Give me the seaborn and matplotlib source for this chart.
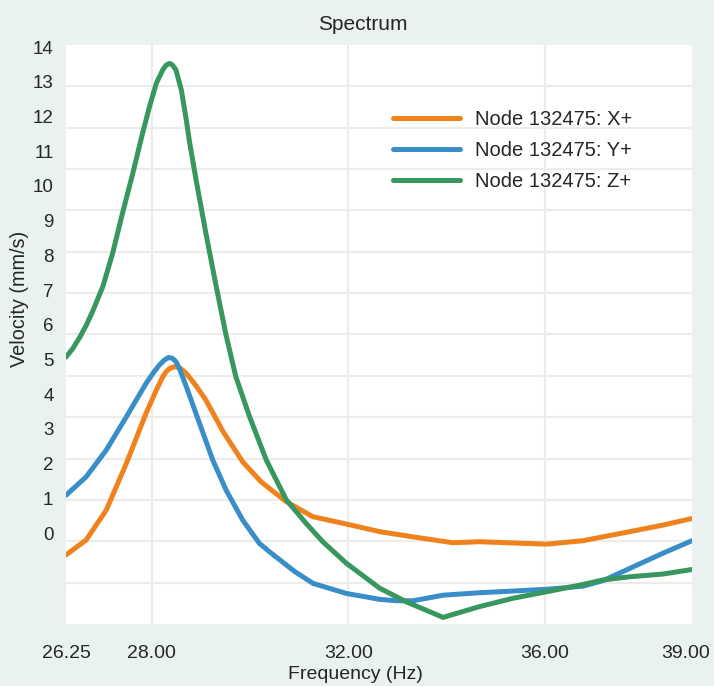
import numpy as np
import pandas as pd
import seaborn as sns
import matplotlib.pyplot as plt
import matplotlib.transforms as mtransforms

# values
freq_x = [26.25, 26.66, 27.07, 27.48, 27.88, 28.09, 28.22, 28.29, 28.36, 28.46,
          28.56, 28.70, 28.90, 29.10, 29.45, 29.85, 30.22, 30.74, 31.28, 31.96,
          32.64, 33.32, 34.13, 34.67, 36.04, 36.78, 37.73, 38.41, 39.00]
vel_x = [-0.63, -0.20, 0.66, 2.01, 3.45, 4.12, 4.50, 4.65, 4.74, 4.79,
         4.77, 4.60, 4.24, 3.83, 2.92, 2.05, 1.48, 0.90, 0.47, 0.26,
         0.04, -0.11, -0.28, -0.25, -0.32, -0.22, 0.04, 0.23, 0.42]

freq_y = [26.25, 26.66, 27.07, 27.48, 27.88, 28.02, 28.15, 28.25, 28.34, 28.42,
          28.49, 28.57, 28.70, 28.97, 29.24, 29.51, 29.85, 30.19, 30.43, 30.91,
          31.28, 31.96, 32.64, 32.98, 33.32, 33.93, 34.67, 36.04, 36.78, 37.19,
          37.73, 38.41, 39.00]
vel_y = [1.09, 1.62, 2.39, 3.35, 4.31, 4.60, 4.84, 4.98, 5.06, 5.03,
         4.94, 4.70, 4.22, 3.16, 2.10, 1.24, 0.37, -0.30, -0.58, -1.11,
         -1.45, -1.74, -1.91, -1.95, -1.95, -1.79, -1.72, -1.62, -1.53, -1.37,
         -1.02, -0.58, -0.22]

freq_z = [26.25, 26.39, 26.53, 26.66, 26.79, 27.00, 27.20, 27.40, 27.61, 27.81,
          27.95, 28.09, 28.22, 28.29, 28.36, 28.42, 28.49, 28.60, 28.70, 28.76,
          28.90, 29.10, 29.31, 29.51, 29.71, 29.99, 30.33, 30.74, 31.14, 31.48,
          31.96, 32.64, 33.18, 33.93, 34.67, 35.35, 36.04, 36.72, 37.19, 37.73,
          38.41, 39.00]
vel_z = [5.07, 5.32, 5.64, 5.98, 6.38, 7.10, 8.06, 9.21, 10.36, 11.52,
         12.28, 12.96, 13.34, 13.48, 13.53, 13.48, 13.34, 12.76, 11.90, 11.32,
         10.17, 8.63, 7.10, 5.70, 4.50, 3.35, 2.10, 0.95, 0.28, -0.25,
         -0.87, -1.59, -1.98, -2.43, -2.12, -1.88, -1.69, -1.50, -1.35, -1.26,
         -1.18, -1.05]

series_names = ["Node 132475: X+", "Node 132475: Y+", "Node 132475: Z+"]
series_colors = ["#f0821e", "#3a8ec8", "#38965f"]
x_ticks = [26.25, 28.00, 32.00, 36.00, 39.00]
y_ticks = list(range(0, 15))

frames = []
for name, f, v in zip(series_names, [freq_x, freq_y, freq_z], [vel_x, vel_y, vel_z]):
    frames.append(pd.DataFrame({"freq": f, "vel": v, "series": name}))
df = pd.concat(frames, ignore_index=True)

sns.set_theme(style="white")
plt.rcParams['font.family'] = ['Liberation Sans', 'DejaVu Sans']

bg = "#eaf2f1"
grid_c = "#ecede8"

fig = plt.figure(figsize=(7.14, 6.86), dpi=100, facecolor=bg)
ax = fig.add_axes([66 / 714, 1 - 624 / 686, 626 / 714, 579 / 686])
ax.set_facecolor("white")

sns.lineplot(data=df, x="freq", y="vel", hue="series", palette=series_colors,
             hue_order=series_names, sort=False, estimator=None, linewidth=3.6,
             ax=ax, zorder=3)
for ln in ax.get_lines():
    ln.set_solid_joinstyle("round")
    ln.set_solid_capstyle("round")

ymin, ymax = -2.62, 14.06
ax.set_xlim(26.25, 39.0)
ax.set_ylim(ymin, ymax)

# grid lines sit on their own even spacing, labels on theirs
ax.set_yticks(y_ticks)
ax.set_yticks(np.linspace(ymin, ymax, 15)[1:-1], minor=True)
ax.set_xticks(x_ticks)
ax.set_xticklabels([f"{t:.2f}" for t in x_ticks])
ax.grid(False)
ax.grid(True, which="minor", axis="y", color=grid_c, linewidth=1.6, zorder=0)
for t in x_ticks[1:-1]:
    ax.axvline(t, color=grid_c, linewidth=1.6, zorder=0)

ax.tick_params(axis="both", which="both", length=0)
ax.tick_params(axis="y", labelsize=13.5, pad=9)
ax.tick_params(axis="x", labelsize=14, pad=15)
for s in ax.spines.values():
    s.set_visible(False)

# last tick label nudged in so it stays on the canvas
last = ax.get_xticklabels()[-1]
last.set_transform(last.get_transform() +
                   mtransforms.ScaledTranslation(-6 / 100, 0, fig.dpi_scale_trans))

ax.set_title("Spectrum", fontsize=15, pad=11, x=0.474)
ax.set_xlabel("Frequency (Hz)", fontsize=14)
ax.xaxis.set_label_coords(0.462, -0.072)
ax.set_ylabel("Velocity (mm/s)", fontsize=14.3)
ax.yaxis.set_label_coords(-0.059, 0.562)

leg = ax.legend(loc="upper left", bbox_to_anchor=(0.523, 0.888), frameon=False,
                fontsize=14.5, handlelength=3.3, handletextpad=0.75,
                labelspacing=0.6, borderpad=0, borderaxespad=0)
for ln in leg.get_lines():
    ln.set_linewidth(3.6)

fig.savefig("out.png", dpi=100, facecolor=bg)
